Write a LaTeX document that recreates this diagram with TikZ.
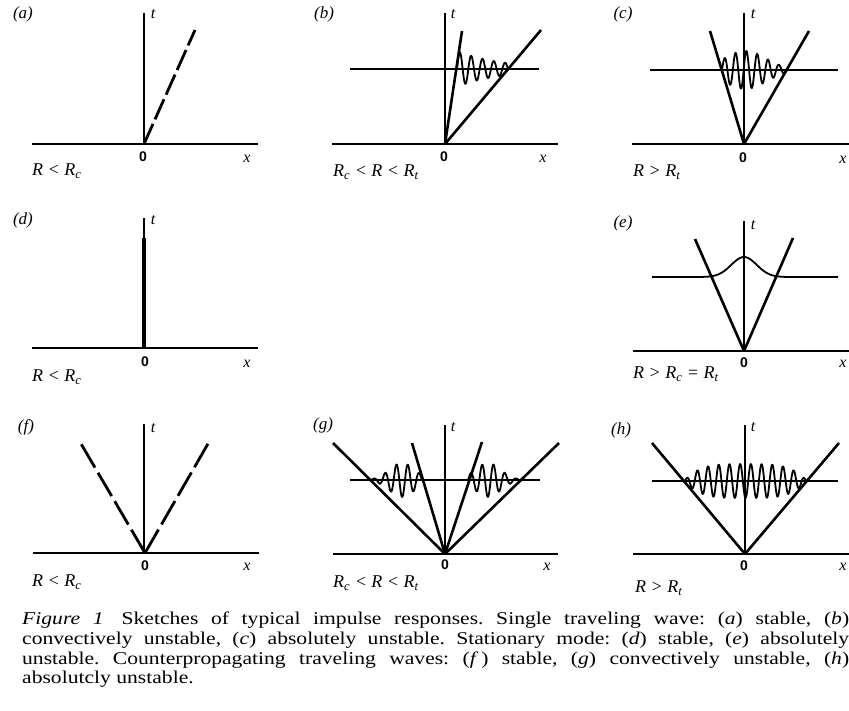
\documentclass[tikz,border=0pt]{standalone}
\usepackage{fontspec}
\setmainfont{Liberation Serif}
\newfontfamily\zerofont{Liberation Sans}
\newfontfamily\capfont[FakeStretch=1.2]{Liberation Serif}
\begin{document}
\begin{tikzpicture}[x=1pt, y=-1pt,
  axis/.style={line width=1.8pt},
  tax/.style={line width=1.2pt},
  ray/.style={line width=2.6pt},
  dray/.style={line width=2.8pt, dash pattern=on 22pt off 5pt},
  bar/.style={line width=4.5pt},
  lev/.style={line width=1.8pt},
  wave/.style={line width=1.8pt, line join=round},
  plab/.style={font=\fontsize{17}{17}\selectfont\itshape},
  var/.style={font=\fontsize{16}{16}\selectfont\itshape},
  orig/.style={font=\zerofont\bfseries\fontsize{14}{14}\selectfont},
  cond/.style={font=\fontsize{18}{18}\selectfont\itshape, anchor=west, inner sep=0pt}
]
\useasboundingbox (0,0) rectangle (849,711);

% (a)
\coordinate (Oa) at (144,144);
\draw[axis] (32,144) -- (258,144);
\draw[tax] (144,13) -- (Oa);
\draw[dray] (Oa) -- (195,30);
\node[plab] (la) at (23,14) {(a)};
\node[var] (ta) at (153,14) {t};
\node[orig] (oa) at (143,157) {0};
\node[var] (xa) at (247,159) {x};
\node[cond] (ca) at (32,171) {R < R\textsubscript{c}};

% (b)
\coordinate (Ob) at (445,144);
\draw[axis] (332,144) -- (558,144);
\draw[tax] (445,13) -- (Ob);
\draw[lev] (350,69) -- (539,69);
\draw[ray] (Ob) -- (462,31);
\draw[ray] (Ob) -- (541,30);
\draw[wave] plot[domain=457:508, samples=160] (\x, {69-18*exp(-(\x-457)/45)*sin(360*((\x-457)/11.33))});
\node[plab] (lb) at (324,14) {(b)};
\node[var] (tb) at (453,14) {t};
\node[orig] (ob) at (444,157) {0};
\node[var] (xb) at (543,159) {x};
\node[cond] (cb) at (333,172) {R\textsubscript{c} < R < R\textsubscript{t}};

% (c)
\coordinate (Oc) at (744,144);
\draw[axis] (632,144) -- (852,144);
\draw[tax] (744,13) -- (Oc);
\draw[lev] (650,70) -- (838,70);
\draw[ray] (Oc) -- (710,31);
\draw[ray] (Oc) -- (809,31);
\draw[wave] plot[domain=722:787, samples=180] (\x, {70-19*exp(-((\x-745)/30)^2)*sin(360*((\x-722)/10.83))});
\node[plab] (lc) at (623,14) {(c)};
\node[var] (tc) at (753,14) {t};
\node[orig] (oc) at (743,158) {0};
\node[var] (xc) at (843,160) {x};
\node[cond] (cc) at (633,172) {R > R\textsubscript{t}};

% (d)
\coordinate (Od) at (144,348);
\draw[axis] (32,348) -- (258,348);
\draw[tax] (144,218) -- (Od);
\draw[bar] (144,238) -- (Od);
\node[plab] (ld) at (23,220) {(d)};
\node[var] (td) at (153,220) {t};
\node[orig] (od) at (145,362) {0};
\node[var] (xd) at (247,364) {x};
\node[cond] (cd) at (32,377) {R < R\textsubscript{c}};

% (e)
\coordinate (Oe) at (744,351);
\draw[axis] (633,351) -- (852,351);
\draw[tax] (744,221) -- (Oe);
\draw[ray] (Oe) -- (695,239);
\draw[ray] (Oe) -- (793,238);
\draw[lev] plot[domain=652:838, samples=140] (\x, {277-20*exp(-((\x-744)/18)^2)});
\node[plab] (le) at (623,223) {(e)};
\node[var] (te) at (753,225) {t};
\node[orig] (oe) at (744,363) {0};
\node[var] (xe) at (843,364) {x};
\node[cond] (ce) at (633,374) {R > R\textsubscript{c} = R\textsubscript{t}};

% (f)
\coordinate (Of) at (145,553);
\draw[axis] (33,553) -- (259,553);
\draw[tax] (144,424) -- (144,553);
\draw[dray, dash pattern=on 27pt off 6pt] (Of) -- (80,442);
\draw[dray, dash pattern=on 27pt off 6pt] (Of) -- (209,442);
\node[plab] (lf) at (26,427) {(f)};
\node[var] (tf) at (153,428) {t};
\node[orig] (of) at (145,566) {0};
\node[var] (xf) at (247,567) {x};
\node[cond] (cf) at (32,582) {R < R\textsubscript{c}};

% (g)
\coordinate (Og) at (445,554);
\draw[axis] (333,554) -- (558,554);
\draw[tax] (445,425) -- (Og);
\draw[lev] (350,480) -- (540,480);
\draw[ray] (Og) -- (333,443);
\draw[ray] (Og) -- (412,443);
\draw[ray] (Og) -- (482,442);
\draw[ray] (Og) -- (559,443);
\draw[wave] plot[domain=371:422, samples=160] (\x, {480-17*exp(-((\x-402)/18)^2)*sin(360*((\x-371)/11.33))});
\draw[wave] plot[domain=468:519, samples=160] (\x, {480-17*exp(-((488-\x)/18)^2)*sin(360*((519-\x)/11.33))});
\node[plab] (lg) at (323,425) {(g)};
\node[var] (tg) at (453,427) {t};
\node[orig] (og) at (445,565) {0};
\node[var] (xg) at (547,567) {x};
\node[cond] (cg) at (333,583) {R\textsubscript{c} < R < R\textsubscript{t}};

% (h)
\coordinate (Oh) at (745,554);
\draw[axis] (633,554) -- (852,554);
\draw[tax] (745,425) -- (Oh);
\draw[lev] (652,481) -- (838,481);
\draw[ray] (Oh) -- (652,443);
\draw[ray] (Oh) -- (839,443);
\draw[wave] plot[domain=684:807, samples=300] (\x, {481-17*(1-((\x-745.5)/61.5)^4)*sin(360*((\x-684)/10.7))});
\node[plab] (lh) at (621,430) {(h)};
\node[var] (th) at (753,427) {t};
\node[orig] (oh) at (744,566) {0};
\node[var] (xh) at (843,567) {x};
\node[cond] (ch) at (635,588) {R > R\textsubscript{t}};

\node[anchor=north west, inner sep=0pt, align=left, font=\capfont\fontsize{18}{19.7}\selectfont\frenchspacing] (cap) at (22,612)
  {\makebox[827pt][s]{\textit{Figure 1}\quad Sketches of typical impulse responses. Single traveling wave: (\textit{a}) stable, (\textit{b})}\\
   \makebox[827pt][s]{convectively unstable, (\textit{c}) absolutely unstable. Stationary mode: (\textit{d}) stable, (\textit{e}) absolutely}\\
   \makebox[827pt][s]{unstable. Counterpropagating traveling waves: (\textit{f}\,) stable, (\textit{g}) convectively unstable, (\textit{h})}\\
   absolutcly unstable.};
\end{tikzpicture}
\end{document}
